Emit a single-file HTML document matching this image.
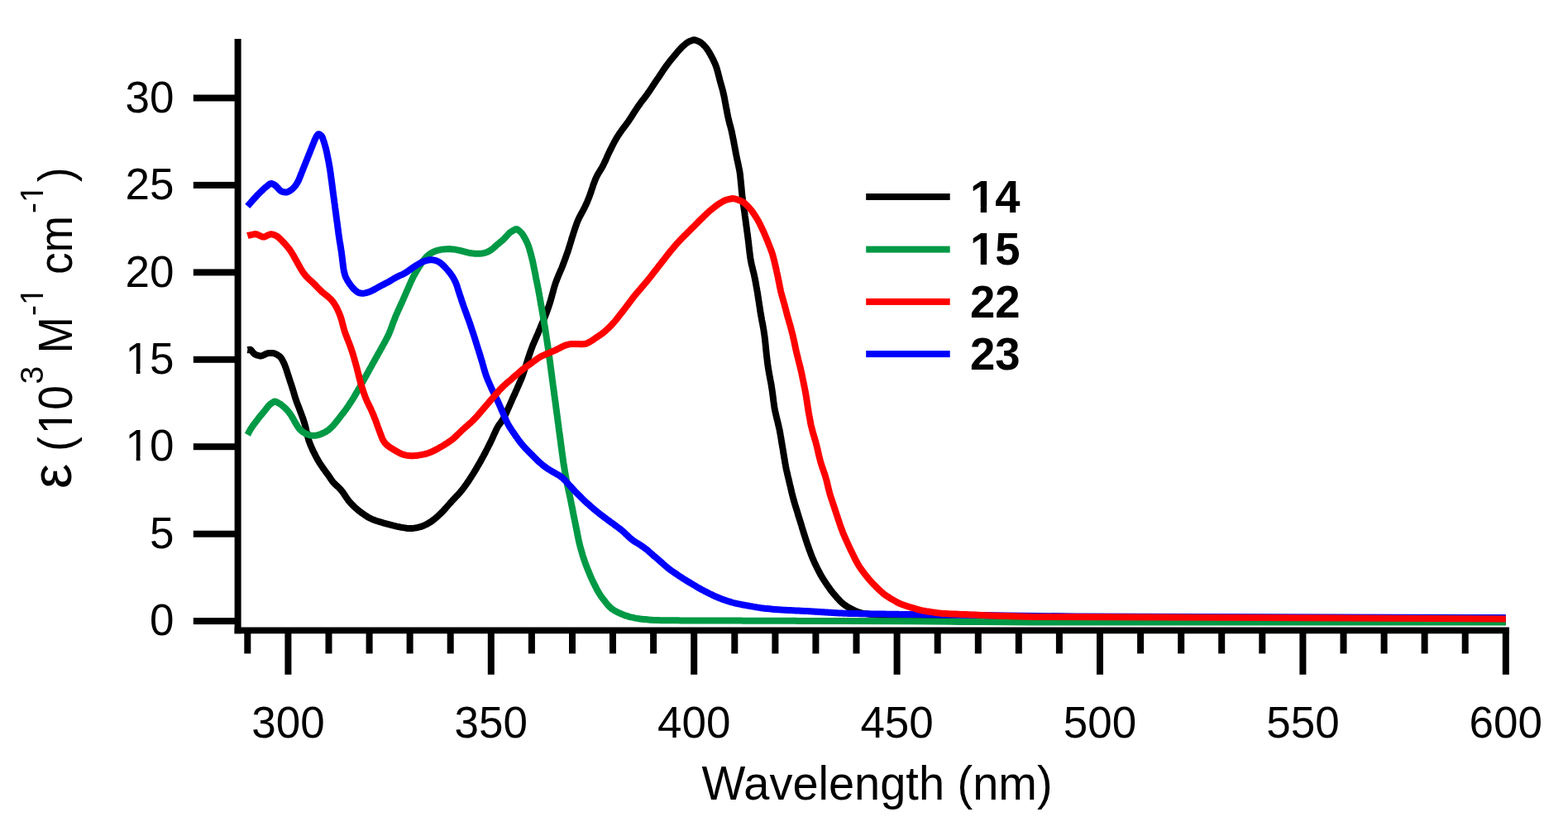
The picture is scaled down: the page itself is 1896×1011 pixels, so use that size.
<!DOCTYPE html>
<html><head><meta charset="utf-8"><style>
html,body{margin:0;padding:0;background:#fff;}
svg{display:block;}
.t{font-family:"Liberation Sans",sans-serif;font-size:53px;fill:#000;}
.b{font-weight:bold;}
.sup{font-size:39px;}
</style></head><body>
<svg width="1896" height="1011" viewBox="0 0 1896 1011">
<rect width="1896" height="1011" fill="#fff"/>
<rect x="283.6" y="47.0" width="8" height="719.2" fill="#000"/>
<rect x="283.6" y="758.5" width="1541.3" height="7.8" fill="#000"/>
<rect x="233.8" y="747.1" width="50.8" height="8" fill="#000"/>
<text transform="translate(210.5,768.3) scale(1,1.025)" text-anchor="end" class="t">0</text>
<rect x="233.8" y="641.7" width="50.8" height="8" fill="#000"/>
<text transform="translate(210.5,662.9) scale(1,1.025)" text-anchor="end" class="t">5</text>
<rect x="233.8" y="536.2" width="50.8" height="8" fill="#000"/>
<text transform="translate(210.5,557.4) scale(1,1.025)" text-anchor="end" class="t">10</text>
<rect x="233.8" y="430.8" width="50.8" height="8" fill="#000"/>
<text transform="translate(210.5,452.0) scale(1,1.025)" text-anchor="end" class="t">15</text>
<rect x="233.8" y="325.4" width="50.8" height="8" fill="#000"/>
<text transform="translate(210.5,346.6) scale(1,1.025)" text-anchor="end" class="t">20</text>
<rect x="233.8" y="219.9" width="50.8" height="8" fill="#000"/>
<text transform="translate(210.5,241.1) scale(1,1.025)" text-anchor="end" class="t">25</text>
<rect x="233.8" y="114.5" width="50.8" height="8" fill="#000"/>
<text transform="translate(210.5,135.7) scale(1,1.025)" text-anchor="end" class="t">30</text>
<rect x="295.3" y="762.4" width="8" height="28.0" fill="#000"/>
<rect x="344.4" y="762.4" width="8" height="53.4" fill="#000"/>
<text transform="translate(348.4,892) scale(1,1.025)" text-anchor="middle" class="t">300</text>
<rect x="393.5" y="762.4" width="8" height="28.0" fill="#000"/>
<rect x="442.6" y="762.4" width="8" height="28.0" fill="#000"/>
<rect x="491.6" y="762.4" width="8" height="28.0" fill="#000"/>
<rect x="540.7" y="762.4" width="8" height="28.0" fill="#000"/>
<rect x="589.8" y="762.4" width="8" height="53.4" fill="#000"/>
<text transform="translate(593.8,892) scale(1,1.025)" text-anchor="middle" class="t">350</text>
<rect x="638.9" y="762.4" width="8" height="28.0" fill="#000"/>
<rect x="688.0" y="762.4" width="8" height="28.0" fill="#000"/>
<rect x="737.0" y="762.4" width="8" height="28.0" fill="#000"/>
<rect x="786.1" y="762.4" width="8" height="28.0" fill="#000"/>
<rect x="835.2" y="762.4" width="8" height="53.4" fill="#000"/>
<text transform="translate(839.2,892) scale(1,1.025)" text-anchor="middle" class="t">400</text>
<rect x="884.3" y="762.4" width="8" height="28.0" fill="#000"/>
<rect x="933.4" y="762.4" width="8" height="28.0" fill="#000"/>
<rect x="982.4" y="762.4" width="8" height="28.0" fill="#000"/>
<rect x="1031.5" y="762.4" width="8" height="28.0" fill="#000"/>
<rect x="1080.6" y="762.4" width="8" height="53.4" fill="#000"/>
<text transform="translate(1084.6,892) scale(1,1.025)" text-anchor="middle" class="t">450</text>
<rect x="1129.7" y="762.4" width="8" height="28.0" fill="#000"/>
<rect x="1178.8" y="762.4" width="8" height="28.0" fill="#000"/>
<rect x="1227.8" y="762.4" width="8" height="28.0" fill="#000"/>
<rect x="1276.9" y="762.4" width="8" height="28.0" fill="#000"/>
<rect x="1326.0" y="762.4" width="8" height="53.4" fill="#000"/>
<text transform="translate(1330.0,892) scale(1,1.025)" text-anchor="middle" class="t">500</text>
<rect x="1375.1" y="762.4" width="8" height="28.0" fill="#000"/>
<rect x="1424.2" y="762.4" width="8" height="28.0" fill="#000"/>
<rect x="1473.2" y="762.4" width="8" height="28.0" fill="#000"/>
<rect x="1522.3" y="762.4" width="8" height="28.0" fill="#000"/>
<rect x="1571.4" y="762.4" width="8" height="53.4" fill="#000"/>
<text transform="translate(1575.4,892) scale(1,1.025)" text-anchor="middle" class="t">550</text>
<rect x="1620.5" y="762.4" width="8" height="28.0" fill="#000"/>
<rect x="1669.6" y="762.4" width="8" height="28.0" fill="#000"/>
<rect x="1718.6" y="762.4" width="8" height="28.0" fill="#000"/>
<rect x="1767.7" y="762.4" width="8" height="28.0" fill="#000"/>
<rect x="1816.8" y="762.4" width="8" height="53.4" fill="#000"/>
<text transform="translate(1820.8,892) scale(1,1.025)" text-anchor="middle" class="t">600</text>
<text transform="translate(848.5,966.6) scale(1,1.035)" class="t" style="font-size:56px">Wavelength (nm)</text>
<g transform="translate(87.2,589.2) rotate(-90)" class="t"><text x="-1.9" y="-0.8" style="font-size:68px">&#949;</text><text transform="scale(1,1.065)" x="43.4" y="0">(</text><text transform="scale(1,1.065)" x="64.1" y="0">10</text><text x="124.7" y="-35" class="sup">3</text><text transform="scale(1,1.065)" x="161.9" y="0">M</text><text x="207.3" y="-35" class="sup">-1</text><text transform="scale(1,1.065)" x="257.5" y="0">cm</text><text x="331.3" y="-35" class="sup">-1</text><text transform="scale(1,1.065)" x="369.3" y="0">)</text><rect x="67.1" y="-5.4" width="10.2" height="6.7" fill="#fff"/><rect x="82.1" y="-5.4" width="10.3" height="6.7" fill="#fff"/><rect x="222.5" y="-38.7" width="7.5" height="4.6" fill="#fff"/><rect x="233.4" y="-38.7" width="7.8" height="4.6" fill="#fff"/><rect x="346.5" y="-38.7" width="7.5" height="4.6" fill="#fff"/><rect x="357.4" y="-38.7" width="7.8" height="4.6" fill="#fff"/></g>
<path d="M299.3,423.1 L299.9,423.2 L301.2,422.7 L302.8,422.8 L304.1,423.9 L305.3,425.4 L306.5,426.9 L307.9,428.2 L309.5,429.1 L311.4,429.7 L313.3,430.2 L315.2,430.5 L317.1,430.1 L318.9,429.3 L320.7,428.4 L322.5,427.6 L324.3,427.1 L326.3,426.9 L328.3,427.0 L330.3,427.1 L332.2,427.5 L333.9,428.3 L335.7,429.3 L337.3,430.3 L338.7,431.5 L339.9,433.0 L341.0,434.6 L341.9,436.3 L342.8,438.1 L343.7,439.9 L344.4,441.7 L345.1,443.6 L345.8,445.4 L346.4,447.3 L347.0,449.2 L347.6,451.1 L348.2,453.0 L348.8,454.9 L349.5,456.9 L350.1,458.8 L350.7,460.7 L351.3,462.6 L352.0,464.5 L352.6,466.4 L353.2,468.3 L353.8,470.2 L354.4,472.1 L355.0,474.0 L355.5,475.9 L356.1,477.8 L356.6,479.7 L357.2,481.6 L357.9,483.5 L358.5,485.4 L359.2,487.3 L359.9,489.1 L360.7,491.0 L361.4,492.9 L362.1,494.7 L362.8,496.6 L363.5,498.5 L364.2,500.4 L364.9,502.2 L365.6,504.1 L366.3,506.0 L366.9,507.9 L367.5,509.8 L368.1,511.7 L368.7,513.6 L369.2,515.5 L369.7,517.5 L370.1,519.4 L370.5,521.4 L371.0,523.3 L371.4,525.3 L371.9,527.2 L372.4,529.1 L372.9,531.1 L373.5,533.0 L374.2,534.9 L374.9,536.7 L375.6,538.6 L376.4,540.4 L377.2,542.2 L378.0,544.1 L378.9,545.9 L379.8,547.6 L380.7,549.4 L381.6,551.2 L382.5,553.0 L383.5,554.7 L384.5,556.5 L385.5,558.2 L386.5,559.9 L387.6,561.6 L388.7,563.2 L389.8,564.9 L391.0,566.5 L392.1,568.1 L393.3,569.8 L394.5,571.4 L395.7,573.0 L396.9,574.6 L398.0,576.2 L399.1,577.8 L400.2,579.5 L401.3,581.1 L402.4,582.6 L403.7,584.0 L405.0,585.3 L406.3,586.6 L407.6,587.8 L409.0,589.1 L410.4,590.4 L411.8,591.9 L413.3,593.7 L414.7,595.5 L416.0,597.4 L417.2,599.2 L418.3,600.9 L419.4,602.5 L420.5,604.1 L421.6,605.6 L422.8,607.0 L424.0,608.4 L425.4,609.8 L426.7,611.2 L428.1,612.6 L429.6,613.9 L431.1,615.3 L432.6,616.6 L434.1,617.8 L435.7,619.0 L437.3,620.2 L438.9,621.4 L440.6,622.5 L442.2,623.6 L443.9,624.7 L445.6,625.7 L447.4,626.7 L449.1,627.5 L450.9,628.3 L452.8,629.0 L454.7,629.7 L456.6,630.3 L458.5,630.9 L460.4,631.4 L462.3,632.0 L464.2,632.6 L466.2,633.1 L468.1,633.7 L470.0,634.2 L471.9,634.7 L473.9,635.2 L475.8,635.7 L477.8,636.1 L479.7,636.6 L481.7,637.0 L483.6,637.4 L485.6,637.8 L487.6,638.1 L489.5,638.4 L491.5,638.7 L493.5,638.9 L495.4,639.0 L497.4,639.0 L499.4,638.9 L501.3,638.6 L503.3,638.3 L505.2,637.9 L507.2,637.4 L509.1,636.9 L510.9,636.2 L512.8,635.5 L514.5,634.7 L516.3,633.8 L518.0,632.8 L519.7,631.7 L521.4,630.7 L523.0,629.5 L524.6,628.3 L526.2,627.1 L527.7,625.8 L529.2,624.4 L530.6,623.1 L532.1,621.7 L533.5,620.3 L534.9,618.9 L536.3,617.4 L537.6,616.0 L539.0,614.5 L540.3,613.0 L541.6,611.5 L542.9,610.0 L544.2,608.5 L545.6,607.0 L546.9,605.5 L548.3,604.0 L549.7,602.6 L551.0,601.1 L552.4,599.7 L553.8,598.3 L555.1,596.8 L556.5,595.3 L557.7,593.8 L559.0,592.2 L560.2,590.6 L561.4,589.0 L562.5,587.4 L563.7,585.8 L564.8,584.1 L566.0,582.5 L567.1,580.8 L568.2,579.1 L569.3,577.5 L570.3,575.8 L571.4,574.1 L572.5,572.4 L573.5,570.7 L574.6,569.0 L575.6,567.3 L576.6,565.5 L577.6,563.8 L578.6,562.1 L579.6,560.4 L580.6,558.6 L581.6,556.9 L582.5,555.1 L583.5,553.4 L584.5,551.6 L585.4,549.8 L586.4,548.1 L587.3,546.3 L588.2,544.5 L589.1,542.8 L590.0,541.0 L590.9,539.2 L591.8,537.4 L592.7,535.6 L593.6,533.8 L594.4,532.0 L595.3,530.2 L596.1,528.4 L596.9,526.5 L597.7,524.7 L598.6,522.9 L599.4,521.1 L600.2,519.4 L601.1,517.7 L602.0,516.0 L603.0,514.4 L604.1,512.9 L605.3,511.3 L606.5,509.6 L607.7,507.9 L608.8,506.1 L609.8,504.3 L610.7,502.4 L611.6,500.6 L612.4,498.8 L613.2,496.9 L614.0,495.1 L614.8,493.3 L615.6,491.6 L616.4,489.8 L617.2,488.0 L618.0,486.2 L618.8,484.4 L619.6,482.5 L620.4,480.7 L621.2,478.9 L622.1,477.1 L622.9,475.2 L623.7,473.4 L624.5,471.6 L625.3,469.8 L626.1,467.9 L626.9,466.1 L627.7,464.3 L628.5,462.4 L629.3,460.6 L630.1,458.8 L630.9,456.9 L631.6,455.1 L632.2,453.2 L632.9,451.3 L633.5,449.4 L634.1,447.5 L634.7,445.6 L635.3,443.7 L636.0,441.8 L636.6,439.9 L637.2,438.0 L637.8,436.1 L638.4,434.2 L639.0,432.3 L639.7,430.4 L640.3,428.5 L641.0,426.6 L641.6,424.7 L642.3,422.8 L643.0,420.9 L643.7,419.1 L644.4,417.2 L645.2,415.4 L646.0,413.5 L646.8,411.7 L647.6,409.9 L648.4,408.0 L649.2,406.2 L650.0,404.4 L650.8,402.5 L651.5,400.7 L652.3,398.8 L653.1,397.0 L653.8,395.1 L654.6,393.3 L655.4,391.4 L656.2,389.6 L657.0,387.8 L657.7,385.9 L658.5,384.1 L659.3,382.2 L660.0,380.4 L660.7,378.5 L661.4,376.6 L662.1,374.7 L662.7,372.9 L663.4,371.0 L664.0,369.1 L664.6,367.2 L665.2,365.3 L665.8,363.3 L666.3,361.4 L666.9,359.5 L667.4,357.6 L667.9,355.6 L668.5,353.7 L669.0,351.8 L669.5,349.8 L670.0,347.9 L670.6,346.0 L671.2,344.1 L671.8,342.2 L672.5,340.3 L673.2,338.5 L673.9,336.6 L674.7,334.7 L675.4,332.9 L676.2,331.1 L677.0,329.2 L677.8,327.4 L678.6,325.6 L679.4,323.7 L680.1,321.9 L680.8,320.0 L681.5,318.1 L682.2,316.3 L682.9,314.4 L683.6,312.5 L684.3,310.6 L684.9,308.7 L685.6,306.8 L686.3,305.0 L686.9,303.1 L687.5,301.2 L688.1,299.3 L688.7,297.3 L689.3,295.4 L689.9,293.5 L690.5,291.6 L691.0,289.7 L691.6,287.8 L692.2,285.9 L692.8,284.0 L693.4,282.1 L694.0,280.1 L694.7,278.2 L695.3,276.3 L695.9,274.5 L696.6,272.6 L697.2,270.7 L697.9,268.8 L698.7,267.0 L699.5,265.1 L700.3,263.3 L701.2,261.6 L702.2,259.8 L703.1,258.1 L704.1,256.3 L705.0,254.6 L706.0,252.8 L706.9,251.0 L707.7,249.2 L708.6,247.4 L709.4,245.6 L710.2,243.7 L710.9,241.9 L711.7,240.0 L712.4,238.2 L713.1,236.3 L713.8,234.4 L714.5,232.5 L715.1,230.6 L715.7,228.7 L716.4,226.8 L717.0,224.9 L717.6,223.0 L718.3,221.2 L719.0,219.3 L719.7,217.4 L720.5,215.6 L721.3,213.8 L722.2,212.1 L723.2,210.3 L724.2,208.6 L725.3,206.9 L726.3,205.2 L727.4,203.5 L728.3,201.8 L729.3,200.0 L730.2,198.2 L731.0,196.4 L731.9,194.6 L732.7,192.8 L733.5,191.0 L734.3,189.2 L735.1,187.3 L736.0,185.5 L736.8,183.7 L737.7,181.9 L738.6,180.1 L739.5,178.3 L740.4,176.5 L741.3,174.7 L742.2,173.0 L743.1,171.2 L744.1,169.5 L745.1,167.7 L746.1,166.0 L747.2,164.3 L748.3,162.7 L749.4,161.0 L750.5,159.4 L751.7,157.7 L752.9,156.1 L754.1,154.5 L755.3,152.9 L756.5,151.3 L757.7,149.7 L758.9,148.1 L760.0,146.5 L761.1,144.8 L762.2,143.2 L763.3,141.5 L764.4,139.8 L765.4,138.1 L766.5,136.4 L767.6,134.7 L768.7,133.1 L769.8,131.4 L770.9,129.7 L772.0,128.1 L773.2,126.5 L774.3,124.8 L775.5,123.2 L776.7,121.6 L778.0,120.1 L779.2,118.5 L780.4,116.9 L781.6,115.3 L782.8,113.7 L783.9,112.0 L785.0,110.4 L786.2,108.7 L787.3,107.1 L788.4,105.4 L789.5,103.7 L790.6,102.1 L791.7,100.4 L792.8,98.7 L793.9,97.1 L795.0,95.4 L796.2,93.8 L797.3,92.1 L798.4,90.4 L799.5,88.8 L800.6,87.1 L801.7,85.4 L802.8,83.8 L804.0,82.1 L805.1,80.5 L806.3,78.9 L807.5,77.3 L808.7,75.7 L810.0,74.1 L811.2,72.6 L812.5,71.0 L813.7,69.5 L815.0,67.9 L816.3,66.4 L817.5,64.9 L818.8,63.3 L820.1,61.8 L821.5,60.3 L822.8,58.8 L824.2,57.4 L825.6,56.0 L827.1,54.7 L828.6,53.4 L830.1,52.2 L831.8,51.0 L833.5,50.1 L835.3,49.4 L837.2,48.7 L839.1,48.2 L840.9,48.5 L842.8,49.2 L844.6,49.9 L846.4,50.8 L848.0,51.9 L849.5,53.2 L850.9,54.6 L852.3,56.0 L853.6,57.5 L854.8,59.1 L855.9,60.7 L857.0,62.4 L858.0,64.1 L859.0,65.8 L859.9,67.6 L860.9,69.3 L861.8,71.1 L862.7,72.9 L863.5,74.7 L864.4,76.5 L865.1,78.3 L865.8,80.2 L866.5,82.1 L867.0,84.0 L867.6,85.9 L868.1,87.8 L868.6,89.8 L869.1,91.7 L869.6,93.6 L870.1,95.6 L870.6,97.5 L871.1,99.4 L871.7,101.4 L872.2,103.3 L872.7,105.2 L873.3,107.2 L873.8,109.1 L874.3,111.0 L874.7,113.0 L875.2,114.9 L875.6,116.9 L876.0,118.8 L876.4,120.8 L876.7,122.8 L877.1,124.7 L877.5,126.7 L877.8,128.7 L878.2,130.6 L878.6,132.6 L879.0,134.6 L879.3,136.5 L879.7,138.5 L880.1,140.4 L880.5,142.4 L881.0,144.3 L881.4,146.3 L881.9,148.2 L882.4,150.2 L883.0,152.1 L883.5,154.0 L884.0,155.9 L884.5,157.9 L884.9,159.8 L885.3,161.8 L885.7,163.7 L886.1,165.7 L886.5,167.7 L886.9,169.6 L887.3,171.6 L887.6,173.6 L888.0,175.5 L888.4,177.5 L888.7,179.5 L889.1,181.4 L889.5,183.4 L889.8,185.4 L890.2,187.3 L890.6,189.3 L891.0,191.2 L891.4,193.2 L891.9,195.2 L892.3,197.1 L892.7,199.1 L893.1,201.0 L893.5,203.0 L893.9,204.9 L894.3,206.9 L894.6,208.9 L894.9,210.8 L895.1,212.8 L895.3,214.8 L895.5,216.8 L895.7,218.8 L895.9,220.8 L896.1,222.8 L896.3,224.8 L896.5,226.8 L896.6,228.7 L896.8,230.7 L897.0,232.7 L897.2,234.7 L897.4,236.7 L897.6,238.7 L897.9,240.7 L898.1,242.7 L898.4,244.6 L898.7,246.6 L899.0,248.6 L899.3,250.6 L899.6,252.6 L899.9,254.5 L900.2,256.5 L900.5,258.5 L900.7,260.5 L901.0,262.5 L901.3,264.4 L901.5,266.4 L901.8,268.4 L902.1,270.4 L902.3,272.4 L902.6,274.3 L902.9,276.3 L903.1,278.3 L903.4,280.3 L903.7,282.3 L903.9,284.3 L904.2,286.2 L904.4,288.2 L904.7,290.2 L904.9,292.2 L905.2,294.2 L905.4,296.2 L905.6,298.2 L905.8,300.1 L906.1,302.1 L906.3,304.1 L906.5,306.1 L906.8,308.1 L907.1,310.1 L907.3,312.0 L907.7,314.0 L908.0,316.0 L908.4,317.9 L908.8,319.9 L909.3,321.8 L909.8,323.8 L910.2,325.7 L910.7,327.7 L911.2,329.6 L911.7,331.5 L912.1,333.5 L912.5,335.4 L912.9,337.4 L913.3,339.4 L913.7,341.3 L914.0,343.3 L914.4,345.3 L914.7,347.2 L915.1,349.2 L915.4,351.2 L915.8,353.2 L916.1,355.1 L916.4,357.1 L916.7,359.1 L917.0,361.1 L917.3,363.0 L917.6,365.0 L917.9,367.0 L918.2,369.0 L918.5,370.9 L918.8,372.9 L919.1,374.9 L919.4,376.9 L919.7,378.8 L920.1,380.8 L920.4,382.8 L920.8,384.8 L921.1,386.7 L921.5,388.7 L921.9,390.6 L922.3,392.6 L922.6,394.6 L923.0,396.5 L923.3,398.5 L923.6,400.5 L923.9,402.5 L924.2,404.5 L924.5,406.4 L924.7,408.4 L925.0,410.4 L925.2,412.4 L925.4,414.4 L925.6,416.4 L925.8,418.3 L926.0,420.3 L926.2,422.3 L926.4,424.3 L926.6,426.3 L926.8,428.3 L927.0,430.3 L927.3,432.3 L927.5,434.3 L927.7,436.2 L928.0,438.2 L928.2,440.2 L928.5,442.2 L928.8,444.2 L929.1,446.1 L929.4,448.1 L929.8,450.1 L930.1,452.1 L930.5,454.0 L930.8,455.9 L931.2,457.8 L931.5,459.7 L931.9,461.4 L932.2,463.1 L932.5,464.8 L932.8,466.4 L933.0,468.0 L933.3,469.8 L933.6,471.7 L933.9,474.1 L934.3,476.9 L934.7,480.0 L935.1,483.0 L935.4,485.5 L935.7,487.5 L935.9,489.4 L936.2,491.1 L936.4,492.8 L936.7,494.4 L937.0,496.1 L937.4,497.9 L937.8,499.7 L938.2,501.5 L938.7,503.4 L939.1,505.3 L939.6,507.2 L940.1,509.1 L940.6,511.1 L941.0,513.0 L941.5,515.0 L941.9,516.9 L942.4,518.9 L942.8,520.8 L943.1,522.8 L943.5,524.7 L943.8,526.7 L944.2,528.7 L944.5,530.7 L944.8,532.6 L945.1,534.6 L945.5,536.6 L945.8,538.6 L946.1,540.5 L946.5,542.5 L946.8,544.5 L947.1,546.4 L947.4,548.4 L947.8,550.4 L948.1,552.4 L948.4,554.3 L948.8,556.3 L949.1,558.3 L949.4,560.3 L949.8,562.2 L950.1,564.2 L950.5,566.1 L950.9,568.1 L951.4,570.1 L951.8,572.0 L952.3,574.0 L952.7,575.9 L953.2,577.8 L953.6,579.8 L954.1,581.7 L954.6,583.7 L955.0,585.6 L955.5,587.6 L956.0,589.5 L956.4,591.5 L956.9,593.4 L957.3,595.4 L957.8,597.3 L958.3,599.2 L958.8,601.2 L959.3,603.1 L959.8,605.0 L960.4,607.0 L960.9,608.9 L961.5,610.8 L962.1,612.7 L962.7,614.6 L963.3,616.5 L963.9,618.4 L964.5,620.4 L965.0,622.3 L965.6,624.2 L966.2,626.1 L966.8,628.0 L967.4,629.9 L968.0,631.8 L968.6,633.7 L969.2,635.6 L969.7,637.6 L970.3,639.5 L970.9,641.4 L971.5,643.3 L972.1,645.2 L972.7,647.1 L973.3,649.0 L973.9,650.9 L974.5,652.8 L975.1,654.7 L975.8,656.6 L976.4,658.5 L977.1,660.4 L977.8,662.3 L978.4,664.2 L979.1,666.0 L979.8,667.9 L980.5,669.8 L981.2,671.7 L981.9,673.5 L982.7,675.4 L983.5,677.2 L984.3,679.0 L985.1,680.9 L986.0,682.7 L986.9,684.5 L987.7,686.2 L988.6,688.0 L989.5,689.8 L990.5,691.6 L991.4,693.4 L992.3,695.1 L993.3,696.8 L994.4,698.6 L995.4,700.3 L996.5,701.9 L997.6,703.6 L998.7,705.3 L999.8,706.9 L1000.9,708.6 L1002.1,710.2 L1003.2,711.9 L1004.4,713.5 L1005.6,715.1 L1006.8,716.6 L1008.1,718.2 L1009.4,719.7 L1010.7,721.2 L1012.0,722.7 L1013.4,724.2 L1014.7,725.7 L1016.1,727.1 L1017.5,728.5 L1019.0,729.8 L1020.6,731.0 L1022.2,732.1 L1023.8,733.2 L1025.5,734.2 L1027.3,735.2 L1029.0,736.2 L1030.8,737.1 L1032.6,738.0 L1034.4,738.8 L1036.2,739.6 L1038.1,740.2 L1040.0,740.8 L1041.9,741.3 L1043.8,741.7 L1045.8,742.0 L1047.8,742.2 L1049.7,742.5 L1051.7,742.7 L1053.7,742.9 L1055.7,743.1 L1057.7,743.3 L1059.7,743.5 L1061.7,743.7 L1063.7,744.0 L1065.6,744.2 L1067.6,744.5 L1069.6,744.7 L1071.6,745.0 L1073.6,745.2 L1075.6,745.4 L1077.6,745.7 L1079.5,745.9 L1081.5,746.2 L1083.5,746.4 L1085.5,746.7 L1087.5,746.9 L1089.5,747.2 L1091.4,747.4 L1093.4,747.7 L1095.4,747.9 L1097.4,748.1 L1099.4,748.3 L1101.4,748.5 L1103.4,748.7 L1105.4,748.8 L1107.4,749.0 L1109.4,749.1 L1111.4,749.3 L1113.3,749.4 L1115.3,749.5 L1117.3,749.7 L1119.3,749.8 L1121.2,749.9 L1123.1,750.0 L1124.7,750.1 L1126.2,750.2 L1127.3,750.3 L1127.3,750.3 L1160.0,751.5 L1820.8,752.0" fill="none" stroke="#000000" stroke-width="8" stroke-linejoin="round" stroke-linecap="butt"/>
<path d="M299.3,525.8 L300.2,524.2 L300.7,523.1 L301.4,521.8 L302.2,520.4 L303.1,518.8 L304.2,517.2 L305.3,515.6 L306.4,514.0 L307.6,512.4 L308.8,510.8 L310.0,509.2 L311.2,507.7 L312.4,506.1 L313.6,504.5 L314.9,502.9 L316.2,501.4 L317.4,499.9 L318.7,498.3 L320.0,496.8 L321.2,495.2 L322.4,493.7 L323.7,492.1 L324.9,490.6 L326.3,489.2 L327.9,488.0 L329.5,486.9 L331.2,485.8 L332.8,485.5 L334.6,486.2 L336.3,487.1 L338.0,488.1 L339.7,489.2 L341.3,490.4 L342.8,491.7 L344.3,493.0 L345.7,494.4 L347.1,495.8 L348.4,497.3 L349.6,498.9 L350.8,500.5 L351.9,502.1 L353.0,503.8 L354.0,505.6 L355.0,507.3 L355.9,509.0 L356.9,510.8 L357.9,512.5 L358.9,514.2 L360.0,515.9 L361.1,517.5 L362.3,519.0 L363.7,520.3 L365.1,521.6 L366.6,522.7 L368.2,523.7 L369.8,524.6 L371.6,525.3 L373.4,525.9 L375.3,526.4 L377.2,526.7 L379.2,526.8 L381.2,526.7 L383.1,526.4 L385.2,525.9 L387.3,525.2 L389.4,524.3 L391.5,523.4 L393.3,522.5 L394.9,521.5 L396.4,520.5 L397.9,519.4 L399.2,518.2 L400.6,516.9 L402.0,515.6 L403.3,514.2 L404.6,512.7 L405.9,511.1 L407.1,509.6 L408.3,508.0 L409.6,506.4 L410.8,504.8 L412.0,503.2 L413.3,501.6 L414.5,500.1 L415.7,498.5 L416.9,496.9 L418.1,495.3 L419.3,493.7 L420.4,492.0 L421.5,490.4 L422.6,488.7 L423.7,487.0 L424.8,485.4 L425.9,483.7 L426.9,482.0 L428.0,480.3 L429.0,478.6 L430.0,476.8 L431.0,475.1 L432.0,473.4 L433.0,471.6 L434.0,469.9 L435.0,468.2 L436.0,466.4 L436.9,464.7 L437.9,462.9 L438.9,461.2 L439.8,459.4 L440.8,457.7 L441.8,455.9 L442.8,454.2 L443.7,452.4 L444.7,450.7 L445.7,448.9 L446.6,447.2 L447.6,445.4 L448.6,443.7 L449.6,441.9 L450.5,440.2 L451.5,438.4 L452.5,436.7 L453.4,434.9 L454.4,433.2 L455.4,431.4 L456.4,429.7 L457.3,427.9 L458.3,426.2 L459.3,424.5 L460.2,422.7 L461.2,421.0 L462.2,419.2 L463.1,417.5 L464.1,415.7 L465.1,414.0 L466.0,412.2 L467.0,410.4 L467.9,408.7 L468.8,406.9 L469.7,405.1 L470.5,403.3 L471.2,401.4 L472.0,399.6 L472.7,397.7 L473.4,395.8 L474.1,393.9 L474.7,392.1 L475.4,390.2 L476.1,388.3 L476.9,386.5 L477.6,384.6 L478.3,382.7 L479.1,380.9 L479.9,379.1 L480.7,377.2 L481.5,375.4 L482.4,373.6 L483.2,371.8 L484.0,369.9 L484.8,368.1 L485.7,366.3 L486.5,364.5 L487.3,362.7 L488.1,360.8 L488.9,359.0 L489.7,357.2 L490.5,355.3 L491.3,353.5 L492.1,351.7 L492.9,349.8 L493.7,348.0 L494.5,346.2 L495.3,344.3 L496.1,342.5 L496.9,340.7 L497.8,338.9 L498.6,337.1 L499.5,335.3 L500.4,333.5 L501.4,331.7 L502.4,330.0 L503.4,328.3 L504.4,326.6 L505.4,324.9 L506.5,323.2 L507.6,321.5 L508.7,319.8 L509.8,318.2 L510.9,316.5 L512.1,314.9 L513.3,313.3 L514.6,311.8 L515.9,310.4 L517.3,309.0 L518.8,307.8 L520.5,306.7 L522.1,305.7 L523.9,304.7 L525.7,304.0 L527.5,303.3 L529.4,302.7 L531.3,302.3 L533.3,301.9 L535.2,301.6 L537.2,301.4 L539.2,301.3 L541.2,301.2 L543.2,301.1 L545.2,301.2 L547.1,301.4 L549.1,301.6 L551.1,301.9 L553.0,302.3 L555.0,302.7 L556.9,303.2 L558.8,303.7 L560.8,304.2 L562.7,304.7 L564.6,305.2 L566.6,305.6 L568.5,306.0 L570.5,306.3 L572.5,306.5 L574.4,306.7 L576.4,306.8 L578.4,306.8 L580.4,306.7 L582.3,306.5 L584.3,306.2 L586.2,305.8 L588.0,305.2 L589.8,304.5 L591.6,303.6 L593.2,302.6 L594.8,301.5 L596.3,300.3 L597.8,299.0 L599.2,297.7 L600.6,296.4 L602.1,295.2 L603.6,293.9 L605.1,292.7 L606.7,291.4 L608.3,290.0 L609.8,288.5 L611.2,287.0 L612.6,285.5 L613.9,284.0 L615.1,282.6 L616.5,281.3 L618.1,280.2 L619.8,279.2 L621.5,278.2 L623.2,277.3 L624.9,277.1 L626.5,278.0 L628.0,279.3 L629.5,280.6 L630.8,282.0 L632.0,283.5 L633.0,285.2 L634.0,286.9 L635.0,288.7 L635.9,290.4 L636.8,292.2 L637.6,294.0 L638.4,295.9 L639.1,297.7 L639.7,299.6 L640.3,301.5 L640.8,303.5 L641.4,305.4 L641.9,307.3 L642.4,309.2 L642.9,311.2 L643.4,313.1 L643.8,315.1 L644.3,317.0 L644.7,319.0 L645.1,320.9 L645.5,322.9 L645.9,324.8 L646.3,326.8 L646.7,328.8 L647.1,330.7 L647.5,332.7 L647.8,334.7 L648.2,336.6 L648.6,338.6 L649.0,340.5 L649.4,342.5 L649.8,344.5 L650.2,346.4 L650.6,348.4 L651.0,350.3 L651.3,352.3 L651.7,354.3 L652.1,356.2 L652.4,358.2 L652.8,360.2 L653.1,362.2 L653.5,364.1 L653.8,366.1 L654.1,368.1 L654.5,370.0 L654.8,372.0 L655.2,374.0 L655.5,375.9 L655.9,377.9 L656.2,379.9 L656.6,381.9 L656.9,383.8 L657.2,385.8 L657.6,387.8 L657.9,389.7 L658.2,391.7 L658.6,393.7 L658.9,395.7 L659.2,397.6 L659.5,399.6 L659.8,401.6 L660.1,403.6 L660.4,405.5 L660.7,407.5 L661.0,409.5 L661.3,411.5 L661.6,413.4 L661.9,415.4 L662.2,417.4 L662.5,419.4 L662.8,421.4 L663.1,423.3 L663.4,425.3 L663.7,427.3 L663.9,429.3 L664.2,431.3 L664.4,433.2 L664.7,435.2 L665.0,437.2 L665.2,439.2 L665.5,441.2 L665.7,443.2 L666.0,445.1 L666.3,447.1 L666.5,449.1 L666.8,451.1 L667.1,453.1 L667.3,455.1 L667.6,457.0 L667.8,459.0 L668.1,461.0 L668.4,463.0 L668.6,465.0 L668.9,467.0 L669.2,468.9 L669.4,470.9 L669.7,472.9 L670.0,474.9 L670.2,476.9 L670.5,478.8 L670.8,480.8 L671.0,482.8 L671.3,484.8 L671.6,486.8 L671.8,488.8 L672.1,490.7 L672.3,492.7 L672.6,494.7 L672.9,496.7 L673.1,498.7 L673.4,500.7 L673.7,502.6 L673.9,504.6 L674.2,506.6 L674.5,508.6 L674.7,510.6 L675.0,512.5 L675.3,514.5 L675.5,516.5 L675.8,518.5 L676.0,520.5 L676.3,522.5 L676.6,524.4 L676.8,526.4 L677.1,528.4 L677.4,530.4 L677.6,532.4 L677.9,534.4 L678.2,536.3 L678.4,538.3 L678.7,540.3 L679.0,542.3 L679.2,544.3 L679.5,546.3 L679.7,548.2 L680.0,550.2 L680.3,552.2 L680.6,554.2 L680.8,556.2 L681.1,558.1 L681.4,560.1 L681.7,562.1 L682.1,564.1 L682.4,566.0 L682.7,568.0 L683.0,570.0 L683.4,572.0 L683.7,573.9 L684.0,575.9 L684.4,577.9 L684.7,579.8 L685.1,581.8 L685.5,583.8 L685.9,585.7 L686.3,587.7 L686.7,589.6 L687.2,591.6 L687.6,593.5 L688.0,595.5 L688.5,597.4 L688.9,599.4 L689.3,601.4 L689.7,603.3 L690.1,605.3 L690.5,607.2 L690.9,609.2 L691.3,611.2 L691.7,613.1 L692.1,615.1 L692.5,617.0 L692.8,619.0 L693.2,621.0 L693.6,622.9 L694.0,624.9 L694.4,626.8 L694.8,628.8 L695.2,630.8 L695.6,632.7 L696.0,634.7 L696.4,636.6 L696.8,638.6 L697.2,640.6 L697.6,642.5 L697.9,644.5 L698.3,646.5 L698.7,648.4 L699.1,650.4 L699.5,652.3 L699.9,654.3 L700.4,656.2 L700.8,658.2 L701.3,660.1 L701.8,662.1 L702.4,664.0 L702.9,665.9 L703.5,667.8 L704.1,669.7 L704.6,671.6 L705.2,673.6 L705.8,675.5 L706.5,677.4 L707.1,679.3 L707.8,681.1 L708.5,683.0 L709.2,684.9 L709.9,686.7 L710.7,688.6 L711.4,690.4 L712.2,692.3 L712.9,694.1 L713.7,696.0 L714.5,697.8 L715.3,699.6 L716.2,701.5 L717.0,703.3 L717.9,705.1 L718.8,706.8 L719.7,708.6 L720.6,710.4 L721.5,712.2 L722.4,714.0 L723.4,715.7 L724.4,717.4 L725.5,719.1 L726.6,720.8 L727.8,722.4 L728.9,724.0 L730.2,725.6 L731.4,727.1 L732.6,728.7 L733.9,730.3 L735.2,731.8 L736.5,733.2 L737.9,734.6 L739.4,735.9 L740.9,737.0 L742.6,738.1 L744.3,739.1 L746.1,740.0 L747.8,740.9 L749.6,741.7 L751.5,742.6 L753.3,743.3 L755.2,744.0 L757.0,744.7 L758.9,745.2 L760.9,745.8 L762.8,746.3 L764.7,746.7 L766.7,747.2 L768.6,747.6 L770.6,747.9 L772.6,748.2 L774.6,748.5 L776.5,748.7 L778.5,748.9 L780.5,749.1 L782.5,749.3 L784.5,749.5 L786.5,749.7 L788.5,749.8 L790.5,749.9 L792.5,750.0 L794.5,750.1 L796.5,750.1 L798.5,750.2 L800.5,750.2 L802.5,750.2 L804.5,750.2 L806.5,750.2 L808.5,750.2 L810.5,750.3 L812.5,750.3 L814.5,750.3 L816.5,750.3 L818.5,750.3 L820.5,750.3 L822.5,750.4 L824.5,750.4 L826.5,750.4 L828.5,750.4 L830.5,750.4 L832.5,750.4 L834.5,750.5 L836.5,750.5 L838.5,750.5 L840.5,750.5 L842.5,750.5 L844.5,750.5 L846.5,750.5 L848.5,750.5 L850.5,750.5 L852.5,750.5 L854.5,750.5 L856.5,750.5 L858.5,750.5 L860.5,750.5 L862.5,750.6 L864.5,750.6 L866.5,750.6 L868.5,750.6 L870.5,750.6 L872.5,750.6 L874.5,750.6 L876.5,750.6 L878.5,750.6 L880.5,750.6 L882.5,750.6 L884.5,750.6 L886.5,750.6 L888.5,750.6 L890.5,750.6 L892.5,750.6 L894.5,750.6 L896.5,750.6 L898.5,750.7 L900.5,750.7 L902.5,750.7 L904.5,750.7 L906.5,750.7 L908.5,750.7 L910.5,750.7 L912.5,750.7 L914.5,750.7 L916.5,750.7 L918.5,750.7 L920.5,750.7 L922.5,750.7 L924.5,750.7 L926.5,750.7 L928.5,750.7 L930.5,750.7 L932.5,750.7 L934.5,750.8 L936.5,750.8 L938.5,750.8 L940.5,750.8 L942.5,750.8 L944.5,750.8 L946.5,750.8 L948.5,750.8 L950.5,750.8 L952.5,750.8 L954.5,750.8 L956.5,750.8 L958.5,750.8 L960.5,750.8 L962.5,750.8 L964.5,750.9 L966.5,750.9 L968.5,750.9 L970.5,750.9 L972.5,750.9 L974.5,750.9 L976.5,750.9 L978.5,750.9 L980.5,750.9 L982.5,750.9 L984.5,750.9 L986.5,750.9 L988.4,751.0 L990.4,751.0 L992.3,751.0 L994.1,751.0 L995.6,751.0 L996.9,751.0 L997.5,751.0 L1100.0,751.2 L1250.0,752.5 L1820.8,752.5" fill="none" stroke="#009945" stroke-width="8" stroke-linejoin="round" stroke-linecap="butt"/>
<path d="M299.3,249.3 L300.6,247.8 L301.4,247.0 L302.3,245.9 L303.5,244.6 L304.7,243.2 L305.9,241.8 L307.3,240.3 L308.6,238.8 L310.0,237.4 L311.3,235.9 L312.7,234.5 L314.1,233.1 L315.6,231.7 L317.0,230.3 L318.4,228.9 L319.9,227.6 L321.4,226.3 L323.0,225.0 L324.5,223.7 L326.0,222.5 L327.6,221.9 L329.4,222.2 L331.1,223.1 L332.8,224.2 L334.2,225.5 L335.5,226.9 L336.9,228.3 L338.2,229.8 L339.6,231.0 L341.4,231.8 L343.3,232.3 L345.2,232.6 L347.1,232.5 L348.8,231.7 L350.5,230.7 L352.2,229.6 L353.8,228.4 L355.1,227.0 L356.4,225.5 L357.6,224.0 L358.7,222.3 L359.7,220.7 L360.6,218.9 L361.5,217.1 L362.2,215.3 L363.0,213.4 L363.7,211.5 L364.4,209.7 L365.2,207.8 L365.9,206.0 L366.6,204.1 L367.4,202.2 L368.1,200.4 L368.9,198.5 L369.6,196.7 L370.3,194.8 L371.1,193.0 L371.8,191.1 L372.6,189.2 L373.3,187.4 L374.1,185.5 L374.8,183.7 L375.5,181.8 L376.3,180.0 L377.0,178.1 L377.8,176.2 L378.5,174.4 L379.3,172.5 L380.0,170.7 L380.8,168.9 L381.6,167.1 L382.4,165.3 L383.5,163.6 L384.7,162.3 L386.1,162.2 L387.5,163.2 L388.9,164.5 L389.9,166.2 L390.5,168.0 L391.1,169.8 L391.8,171.7 L392.3,173.6 L392.9,175.5 L393.4,177.5 L394.0,179.4 L394.4,181.3 L394.9,183.3 L395.3,185.2 L395.7,187.2 L396.1,189.2 L396.5,191.1 L396.9,193.1 L397.3,195.0 L397.6,197.0 L398.0,199.0 L398.3,200.9 L398.7,202.9 L399.0,204.9 L399.3,206.9 L399.6,208.8 L399.8,210.8 L400.1,212.8 L400.4,214.8 L400.6,216.8 L400.9,218.8 L401.2,220.7 L401.4,222.7 L401.7,224.7 L401.9,226.7 L402.2,228.7 L402.5,230.6 L402.7,232.6 L403.0,234.6 L403.3,236.6 L403.5,238.6 L403.8,240.6 L404.1,242.5 L404.3,244.5 L404.6,246.5 L404.9,248.5 L405.1,250.5 L405.4,252.5 L405.6,254.4 L405.9,256.4 L406.2,258.4 L406.4,260.4 L406.7,262.4 L407.0,264.3 L407.2,266.3 L407.5,268.3 L407.8,270.2 L408.0,272.2 L408.3,274.2 L408.5,276.1 L408.8,278.1 L409.1,280.1 L409.3,282.1 L409.6,284.1 L409.9,286.1 L410.2,288.1 L410.5,290.2 L410.8,292.2 L411.2,294.2 L411.5,296.2 L411.8,298.1 L412.1,300.1 L412.4,302.0 L412.7,304.0 L413.0,305.9 L413.2,307.9 L413.5,309.9 L413.7,311.9 L414.0,313.8 L414.2,315.8 L414.5,317.8 L414.7,319.8 L415.0,321.8 L415.2,323.8 L415.5,325.7 L415.9,327.7 L416.3,329.6 L416.8,331.5 L417.4,333.4 L418.1,335.2 L419.0,337.0 L419.9,338.7 L420.9,340.4 L422.0,342.1 L423.1,343.7 L424.3,345.3 L425.5,346.9 L426.8,348.4 L428.2,349.8 L429.6,351.1 L431.1,352.3 L432.6,353.3 L434.2,354.1 L435.9,354.5 L437.7,354.7 L439.5,354.7 L441.4,354.4 L443.3,354.0 L445.1,353.4 L447.0,352.7 L448.8,352.0 L450.6,351.1 L452.4,350.2 L454.1,349.2 L455.8,348.3 L457.6,347.3 L459.3,346.4 L461.0,345.4 L462.8,344.5 L464.5,343.6 L466.2,342.7 L467.9,341.9 L469.6,341.0 L471.2,340.1 L472.7,339.1 L474.4,338.1 L476.1,337.0 L478.1,335.9 L480.1,334.8 L482.2,333.8 L484.2,332.9 L486.1,332.1 L487.8,331.3 L489.5,330.4 L491.0,329.5 L492.6,328.4 L494.2,327.3 L495.7,326.2 L497.3,325.0 L498.9,323.9 L500.5,322.8 L502.1,321.7 L503.8,320.6 L505.5,319.6 L507.2,318.6 L508.9,317.7 L510.7,316.8 L512.6,316.1 L514.4,315.4 L516.3,314.9 L518.2,314.5 L520.1,314.3 L522.1,314.3 L524.0,314.4 L525.9,314.8 L527.7,315.4 L529.4,316.1 L531.1,317.0 L532.7,318.1 L534.3,319.4 L535.7,320.7 L537.1,322.1 L538.5,323.5 L539.8,325.0 L541.1,326.5 L542.4,328.1 L543.6,329.6 L544.8,331.1 L546.0,332.7 L547.1,334.3 L548.1,336.0 L549.1,337.7 L550.0,339.6 L550.9,341.4 L551.6,343.3 L552.4,345.2 L553.0,347.2 L553.6,349.1 L554.2,351.0 L554.8,352.9 L555.4,354.7 L556.0,356.6 L556.6,358.5 L557.3,360.4 L557.9,362.3 L558.5,364.2 L559.1,366.0 L559.8,367.9 L560.4,369.8 L561.1,371.7 L561.8,373.6 L562.5,375.5 L563.2,377.4 L563.9,379.2 L564.5,381.1 L565.2,383.0 L565.9,384.9 L566.6,386.7 L567.3,388.6 L567.9,390.5 L568.6,392.4 L569.2,394.3 L569.8,396.2 L570.5,398.1 L571.1,400.0 L571.7,401.9 L572.4,403.8 L573.0,405.7 L573.6,407.6 L574.2,409.5 L574.8,411.4 L575.4,413.3 L576.0,415.2 L576.6,417.1 L577.2,419.1 L577.8,421.0 L578.4,422.9 L579.0,424.8 L579.6,426.7 L580.2,428.6 L580.7,430.5 L581.3,432.4 L581.9,434.3 L582.5,436.2 L583.1,438.2 L583.6,440.1 L584.2,442.0 L584.7,443.9 L585.2,445.9 L585.8,447.8 L586.4,449.7 L587.0,451.6 L587.6,453.5 L588.2,455.4 L589.0,457.2 L589.7,459.1 L590.5,460.9 L591.3,462.8 L592.1,464.6 L592.9,466.4 L593.7,468.3 L594.5,470.1 L595.4,471.9 L596.3,473.7 L597.1,475.5 L598.0,477.3 L598.9,479.0 L599.8,480.8 L600.6,482.6 L601.5,484.3 L602.3,486.1 L603.1,487.9 L603.9,489.6 L604.7,491.5 L605.5,493.3 L606.3,495.2 L607.1,497.1 L608.0,499.1 L608.8,501.1 L609.6,503.0 L610.4,504.9 L611.3,506.7 L612.1,508.5 L612.9,510.3 L613.8,512.0 L614.7,513.7 L615.7,515.4 L616.7,517.1 L617.8,518.7 L618.9,520.4 L620.0,522.0 L621.1,523.7 L622.3,525.3 L623.4,527.0 L624.6,528.6 L625.7,530.2 L626.9,531.9 L628.1,533.5 L629.3,535.1 L630.5,536.6 L631.8,538.2 L633.1,539.7 L634.4,541.2 L635.8,542.6 L637.2,544.0 L638.6,545.5 L640.0,546.9 L641.4,548.3 L642.8,549.7 L644.2,551.1 L645.6,552.5 L647.0,554.0 L648.5,555.4 L649.9,556.8 L651.3,558.2 L652.8,559.5 L654.3,560.8 L655.8,562.1 L657.4,563.4 L659.0,564.5 L660.6,565.7 L662.2,566.8 L663.9,567.9 L665.6,568.9 L667.3,570.0 L669.1,571.0 L670.8,571.9 L672.5,572.9 L674.3,573.9 L676.0,574.9 L677.6,576.0 L679.2,577.2 L680.7,578.4 L682.1,579.8 L683.5,581.2 L684.8,582.7 L686.2,584.2 L687.5,585.7 L688.8,587.1 L690.2,588.6 L691.5,590.1 L692.9,591.6 L694.2,593.0 L695.6,594.5 L697.0,595.9 L698.4,597.3 L699.8,598.7 L701.3,600.2 L702.7,601.6 L704.1,603.0 L705.5,604.4 L707.0,605.8 L708.4,607.1 L709.9,608.5 L711.4,609.8 L712.9,611.1 L714.4,612.5 L715.9,613.8 L717.4,615.1 L718.9,616.4 L720.5,617.6 L722.0,618.9 L723.6,620.1 L725.1,621.4 L726.7,622.6 L728.3,623.8 L729.9,625.0 L731.5,626.2 L733.1,627.4 L734.7,628.6 L736.3,629.8 L737.9,631.0 L739.6,632.2 L741.2,633.3 L742.8,634.5 L744.4,635.7 L746.0,636.9 L747.6,638.1 L749.2,639.3 L750.8,640.5 L752.3,641.8 L753.8,643.1 L755.3,644.4 L756.7,645.8 L758.2,647.2 L759.6,648.6 L761.1,649.9 L762.6,651.2 L764.1,652.5 L765.7,653.7 L767.3,654.8 L769.0,655.9 L770.7,656.9 L772.4,657.9 L774.1,659.0 L775.8,660.1 L777.4,661.2 L779.1,662.4 L780.6,663.6 L782.2,664.8 L783.7,666.1 L785.2,667.4 L786.7,668.7 L788.2,670.0 L789.7,671.4 L791.2,672.7 L792.8,674.0 L794.3,675.3 L795.8,676.6 L797.3,677.9 L798.8,679.3 L800.3,680.6 L801.8,681.9 L803.3,683.2 L804.8,684.5 L806.3,685.8 L807.9,687.1 L809.4,688.3 L811.0,689.5 L812.7,690.7 L814.3,691.8 L815.9,692.9 L817.6,694.1 L819.3,695.2 L820.9,696.3 L822.6,697.4 L824.3,698.5 L825.9,699.6 L827.6,700.6 L829.3,701.7 L831.0,702.8 L832.7,703.8 L834.4,704.8 L836.2,705.9 L837.9,706.9 L839.6,707.9 L841.3,708.9 L843.0,710.0 L844.8,711.0 L846.5,711.9 L848.3,712.9 L850.0,713.8 L851.8,714.8 L853.6,715.7 L855.4,716.6 L857.1,717.5 L858.9,718.4 L860.7,719.2 L862.5,720.1 L864.3,721.0 L866.2,721.8 L868.0,722.5 L869.9,723.3 L871.7,724.0 L873.6,724.7 L875.5,725.4 L877.4,726.0 L879.3,726.7 L881.2,727.3 L883.1,727.9 L885.0,728.5 L886.9,729.0 L888.8,729.5 L890.8,729.9 L892.7,730.3 L894.7,730.7 L896.6,731.1 L898.6,731.5 L900.6,731.8 L902.5,732.2 L904.5,732.5 L906.5,732.9 L908.5,733.2 L910.4,733.6 L912.4,733.9 L914.4,734.3 L916.3,734.6 L918.3,734.9 L920.3,735.2 L922.3,735.4 L924.3,735.7 L926.2,735.9 L928.2,736.1 L930.2,736.3 L932.2,736.5 L934.2,736.7 L936.2,736.9 L938.2,737.0 L940.2,737.2 L942.2,737.3 L944.2,737.4 L946.2,737.6 L948.2,737.7 L950.2,737.8 L952.2,737.9 L954.2,738.0 L956.2,738.1 L958.2,738.2 L960.1,738.3 L962.1,738.4 L964.1,738.5 L966.1,738.6 L968.1,738.7 L970.1,738.8 L972.1,738.9 L974.1,739.0 L976.1,739.1 L978.1,739.2 L980.1,739.3 L982.1,739.4 L984.1,739.5 L986.1,739.7 L988.1,739.8 L990.1,739.9 L992.1,740.0 L994.1,740.2 L996.1,740.3 L998.1,740.4 L1000.1,740.5 L1002.1,740.7 L1004.1,740.8 L1006.1,740.9 L1008.1,741.0 L1010.1,741.2 L1012.1,741.3 L1014.1,741.4 L1016.1,741.5 L1018.0,741.6 L1020.0,741.7 L1022.0,741.8 L1024.0,741.8 L1026.0,741.9 L1028.0,741.9 L1030.0,742.0 L1032.0,742.0 L1034.0,742.0 L1036.0,742.1 L1038.0,742.1 L1040.0,742.2 L1042.0,742.2 L1044.0,742.2 L1046.0,742.3 L1048.0,742.3 L1050.0,742.3 L1052.0,742.4 L1054.0,742.4 L1056.0,742.4 L1058.0,742.5 L1060.0,742.5 L1062.0,742.5 L1064.0,742.5 L1066.0,742.6 L1068.0,742.6 L1070.0,742.6 L1072.0,742.7 L1074.0,742.7 L1076.0,742.7 L1078.0,742.7 L1080.0,742.8 L1082.0,742.8 L1084.0,742.8 L1086.0,742.8 L1088.0,742.9 L1090.0,742.9 L1092.0,742.9 L1094.0,742.9 L1096.0,742.9 L1098.0,743.0 L1100.0,743.0 L1102.0,743.0 L1104.0,743.0 L1106.0,743.1 L1108.0,743.1 L1110.0,743.1 L1112.0,743.1 L1114.0,743.1 L1116.0,743.2 L1118.0,743.2 L1120.0,743.2 L1122.0,743.2 L1124.0,743.2 L1126.0,743.3 L1128.0,743.3 L1130.0,743.3 L1132.0,743.3 L1134.0,743.3 L1136.0,743.4 L1138.0,743.4 L1140.0,743.4 L1141.9,743.4 L1143.6,743.4 L1145.2,743.5 L1146.5,743.5 L1147.0,743.5 L1300.0,745.5 L1820.8,747.0" fill="none" stroke="#0000FF" stroke-width="8" stroke-linejoin="round" stroke-linecap="butt"/>
<path d="M299.3,285.0 L300.3,284.7 L301.6,284.5 L303.3,284.1 L305.2,283.7 L307.1,283.3 L309.1,283.1 L310.9,283.5 L312.7,284.3 L314.5,285.1 L316.3,286.0 L318.1,286.6 L319.9,286.4 L321.7,285.6 L323.5,284.7 L325.2,283.9 L327.1,283.2 L328.9,283.3 L330.8,283.8 L332.7,284.5 L334.4,285.3 L336.0,286.5 L337.5,287.8 L338.9,289.1 L340.3,290.5 L341.7,291.9 L343.1,293.4 L344.5,294.8 L345.8,296.3 L347.1,297.8 L348.4,299.4 L349.6,300.9 L350.8,302.6 L351.9,304.2 L352.9,305.9 L354.0,307.6 L355.0,309.3 L355.9,311.1 L356.9,312.8 L357.9,314.6 L358.9,316.3 L359.8,318.1 L360.8,319.8 L361.8,321.6 L362.8,323.3 L363.7,325.0 L364.8,326.7 L365.8,328.4 L366.9,330.1 L368.1,331.6 L369.4,333.2 L370.7,334.6 L372.1,336.1 L373.5,337.5 L375.0,338.8 L376.5,340.2 L377.9,341.5 L379.4,342.9 L380.8,344.3 L382.2,345.7 L383.6,347.2 L384.9,348.6 L386.3,350.0 L387.8,351.4 L389.2,352.8 L390.8,354.1 L392.3,355.3 L393.8,356.6 L395.4,357.8 L396.9,359.1 L398.4,360.4 L399.8,361.7 L401.2,363.2 L402.4,364.7 L403.6,366.3 L404.7,368.0 L405.7,369.7 L406.7,371.4 L407.6,373.2 L408.4,375.0 L409.3,376.8 L410.1,378.6 L410.8,380.5 L411.5,382.3 L412.1,384.2 L412.8,386.1 L413.3,388.0 L413.8,390.0 L414.3,391.9 L414.8,393.8 L415.3,395.8 L415.9,397.7 L416.4,399.6 L417.0,401.5 L417.7,403.4 L418.4,405.3 L419.1,407.1 L419.8,409.0 L420.5,410.8 L421.3,412.7 L422.0,414.6 L422.7,416.4 L423.4,418.3 L424.1,420.2 L424.7,422.1 L425.4,424.0 L426.0,425.9 L426.6,427.8 L427.2,429.7 L427.7,431.6 L428.3,433.5 L428.8,435.5 L429.4,437.4 L429.9,439.3 L430.4,441.2 L431.0,443.2 L431.5,445.1 L432.0,447.0 L432.5,449.0 L433.0,450.9 L433.5,452.9 L433.9,454.8 L434.4,456.7 L434.9,458.7 L435.4,460.6 L436.0,462.5 L436.5,464.5 L437.1,466.4 L437.7,468.3 L438.3,470.2 L438.9,472.1 L439.5,474.0 L440.2,475.9 L440.9,477.8 L441.5,479.6 L442.3,481.5 L443.0,483.3 L443.8,485.2 L444.7,487.0 L445.6,488.8 L446.4,490.6 L447.3,492.4 L448.2,494.2 L449.0,496.0 L449.8,497.8 L450.6,499.6 L451.4,501.5 L452.1,503.3 L452.8,505.2 L453.6,507.1 L454.3,508.9 L455.0,510.8 L455.7,512.7 L456.3,514.6 L457.0,516.4 L457.7,518.3 L458.4,520.2 L459.1,522.1 L459.8,524.0 L460.5,525.8 L461.2,527.7 L461.9,529.5 L462.7,531.3 L463.6,533.0 L464.7,534.6 L465.8,536.1 L467.2,537.5 L468.6,538.8 L470.2,540.0 L471.8,541.1 L473.5,542.2 L475.2,543.3 L476.9,544.3 L478.6,545.3 L480.3,546.3 L482.1,547.3 L483.8,548.2 L485.6,549.0 L487.5,549.6 L489.3,550.2 L491.2,550.6 L493.2,550.9 L495.1,551.1 L497.1,551.2 L499.1,551.2 L501.1,551.1 L503.1,550.9 L505.0,550.7 L507.0,550.4 L509.0,550.1 L510.9,549.7 L512.9,549.3 L514.8,548.8 L516.7,548.3 L518.6,547.7 L520.4,546.9 L522.3,546.2 L524.1,545.3 L525.9,544.4 L527.6,543.5 L529.4,542.6 L531.1,541.6 L532.9,540.6 L534.6,539.6 L536.3,538.6 L538.0,537.5 L539.7,536.5 L541.4,535.4 L543.0,534.3 L544.7,533.1 L546.3,532.0 L547.8,530.7 L549.3,529.4 L550.8,528.0 L552.2,526.7 L553.6,525.3 L555.1,523.9 L556.5,522.5 L557.9,521.1 L559.4,519.7 L560.9,518.4 L562.4,517.0 L563.9,515.7 L565.4,514.4 L566.9,513.1 L568.4,511.8 L569.9,510.4 L571.3,509.1 L572.7,507.7 L574.1,506.2 L575.5,504.8 L576.8,503.3 L578.1,501.8 L579.4,500.3 L580.8,498.8 L582.1,497.2 L583.4,495.7 L584.7,494.2 L586.0,492.7 L587.3,491.2 L588.6,489.7 L589.9,488.1 L591.2,486.6 L592.4,485.1 L593.7,483.6 L595.0,482.1 L596.3,480.7 L597.6,479.2 L598.8,477.7 L600.1,476.2 L601.5,474.8 L602.8,473.2 L604.1,471.7 L605.6,470.2 L607.0,468.7 L608.5,467.2 L610.0,465.8 L611.6,464.4 L613.1,463.0 L614.7,461.7 L616.2,460.5 L617.7,459.2 L619.1,457.9 L620.6,456.6 L622.1,455.3 L623.5,454.0 L625.0,452.7 L626.5,451.4 L627.9,450.1 L629.5,448.8 L631.0,447.5 L632.6,446.3 L634.2,445.1 L635.8,443.9 L637.4,442.8 L639.0,441.6 L640.6,440.5 L642.2,439.4 L643.8,438.2 L645.3,437.0 L646.9,435.9 L648.5,434.7 L650.2,433.5 L651.9,432.4 L653.7,431.3 L655.5,430.4 L657.4,429.6 L659.3,428.8 L661.1,428.0 L663.0,427.3 L664.8,426.5 L666.6,425.7 L668.4,424.9 L670.2,424.1 L671.9,423.3 L673.7,422.4 L675.5,421.5 L677.3,420.6 L679.0,419.7 L680.8,418.8 L682.6,418.0 L684.4,417.3 L686.3,416.8 L688.2,416.4 L690.1,416.1 L692.1,415.9 L694.1,415.9 L696.0,415.9 L698.0,416.0 L700.0,416.1 L701.9,416.2 L703.9,416.2 L705.8,416.1 L707.6,415.8 L709.4,415.3 L711.1,414.5 L712.8,413.6 L714.5,412.6 L716.2,411.6 L717.8,410.5 L719.5,409.3 L721.1,408.2 L722.8,407.1 L724.5,406.0 L726.1,404.8 L727.7,403.7 L729.3,402.5 L730.8,401.2 L732.3,399.9 L733.8,398.6 L735.3,397.2 L736.7,395.8 L738.1,394.4 L739.5,392.9 L740.8,391.5 L742.2,390.0 L743.5,388.5 L744.8,386.9 L746.0,385.4 L747.3,383.8 L748.5,382.3 L749.7,380.7 L751.0,379.1 L752.2,377.5 L753.4,375.9 L754.6,374.4 L755.8,372.8 L757.1,371.2 L758.3,369.6 L759.5,368.0 L760.7,366.4 L761.9,364.8 L763.1,363.2 L764.3,361.6 L765.5,360.0 L766.7,358.4 L768.0,356.9 L769.2,355.3 L770.5,353.8 L771.8,352.3 L773.1,350.8 L774.4,349.3 L775.8,347.7 L777.1,346.2 L778.4,344.7 L779.7,343.2 L781.0,341.7 L782.2,340.1 L783.5,338.6 L784.7,337.0 L786.0,335.5 L787.2,333.9 L788.5,332.3 L789.7,330.7 L790.9,329.1 L792.1,327.6 L793.4,326.0 L794.6,324.4 L795.8,322.8 L797.0,321.3 L798.3,319.7 L799.5,318.1 L800.7,316.5 L802.0,314.9 L803.2,313.4 L804.4,311.8 L805.6,310.2 L806.9,308.6 L808.1,307.1 L809.4,305.5 L810.6,303.9 L811.9,302.4 L813.2,300.9 L814.4,299.3 L815.7,297.8 L817.0,296.3 L818.4,294.8 L819.7,293.3 L821.0,291.8 L822.4,290.4 L823.8,288.9 L825.2,287.5 L826.6,286.1 L828.0,284.7 L829.5,283.3 L830.9,281.8 L832.3,280.4 L833.7,279.0 L835.1,277.6 L836.5,276.2 L837.9,274.8 L839.4,273.4 L840.8,272.0 L842.2,270.5 L843.6,269.1 L845.0,267.7 L846.4,266.3 L847.8,264.9 L849.3,263.5 L850.7,262.1 L852.1,260.7 L853.6,259.3 L855.0,257.9 L856.5,256.6 L858.0,255.3 L859.5,254.0 L861.1,252.7 L862.6,251.4 L864.2,250.2 L865.8,249.0 L867.4,247.8 L869.0,246.7 L870.7,245.6 L872.4,244.6 L874.1,243.6 L875.9,242.7 L877.7,241.9 L879.6,241.3 L881.5,240.9 L883.5,240.5 L885.4,240.1 L887.4,240.2 L889.3,240.6 L891.2,241.3 L893.0,241.9 L894.9,242.6 L896.7,243.4 L898.4,244.3 L900.0,245.5 L901.4,246.8 L902.9,248.2 L904.3,249.5 L905.7,251.0 L907.0,252.5 L908.3,254.0 L909.5,255.6 L910.6,257.2 L911.7,258.8 L912.8,260.5 L913.9,262.2 L914.9,263.9 L916.0,265.6 L917.0,267.4 L917.9,269.1 L918.9,270.9 L919.7,272.7 L920.6,274.5 L921.4,276.3 L922.3,278.1 L923.1,279.9 L923.9,281.7 L924.7,283.6 L925.5,285.4 L926.3,287.3 L927.0,289.1 L927.8,290.9 L928.6,292.8 L929.3,294.7 L930.0,296.5 L930.8,298.4 L931.5,300.2 L932.2,302.1 L932.9,304.0 L933.6,305.9 L934.2,307.8 L934.7,309.7 L935.2,311.6 L935.7,313.5 L936.2,315.5 L936.7,317.4 L937.1,319.4 L937.6,321.3 L938.0,323.3 L938.5,325.2 L938.9,327.2 L939.3,329.1 L939.8,331.1 L940.2,333.0 L940.6,335.0 L941.0,336.9 L941.4,338.9 L941.8,340.9 L942.2,342.8 L942.6,344.8 L942.9,346.8 L943.4,348.7 L943.8,350.7 L944.2,352.6 L944.7,354.6 L945.2,356.5 L945.7,358.4 L946.3,360.3 L946.8,362.3 L947.4,364.2 L947.9,366.1 L948.5,368.0 L949.0,370.0 L949.5,371.9 L950.0,373.8 L950.5,375.8 L951.0,377.7 L951.5,379.6 L952.0,381.6 L952.6,383.5 L953.1,385.4 L953.7,387.3 L954.2,389.3 L954.8,391.2 L955.4,393.1 L955.9,395.0 L956.4,396.9 L956.9,398.9 L957.4,400.8 L957.9,402.8 L958.4,404.7 L958.9,406.6 L959.3,408.6 L959.7,410.5 L960.2,412.5 L960.6,414.5 L961.0,416.4 L961.4,418.4 L961.8,420.3 L962.2,422.3 L962.7,424.2 L963.1,426.2 L963.6,428.1 L964.1,430.1 L964.6,432.0 L965.0,433.9 L965.5,435.9 L966.0,437.8 L966.5,439.8 L967.0,441.7 L967.5,443.6 L967.9,445.6 L968.4,447.5 L968.9,449.5 L969.3,451.4 L969.7,453.4 L970.1,455.3 L970.5,457.2 L970.9,459.1 L971.3,460.8 L971.6,462.6 L971.9,464.2 L972.3,465.9 L972.6,467.5 L972.9,469.1 L973.3,471.0 L973.7,473.1 L974.2,475.8 L974.7,478.8 L975.2,481.8 L975.6,484.5 L975.9,486.7 L976.2,488.6 L976.5,490.4 L976.7,492.1 L977.0,493.8 L977.3,495.5 L977.5,497.2 L977.8,499.0 L978.2,500.8 L978.5,502.7 L978.9,504.6 L979.2,506.5 L979.6,508.5 L979.9,510.5 L980.3,512.4 L980.7,514.4 L981.2,516.3 L981.7,518.3 L982.2,520.2 L982.7,522.1 L983.2,524.0 L983.8,526.0 L984.4,527.9 L984.9,529.8 L985.5,531.7 L986.1,533.6 L986.6,535.6 L987.1,537.5 L987.6,539.4 L988.1,541.4 L988.5,543.3 L989.0,545.3 L989.4,547.2 L989.9,549.2 L990.3,551.1 L990.8,553.1 L991.3,555.0 L991.8,556.9 L992.3,558.8 L992.9,560.8 L993.5,562.7 L994.1,564.6 L994.8,566.5 L995.4,568.3 L996.1,570.2 L996.7,572.1 L997.4,574.0 L998.0,575.9 L998.5,577.8 L999.1,579.8 L999.6,581.7 L1000.1,583.6 L1000.5,585.6 L1001.0,587.5 L1001.4,589.5 L1001.9,591.4 L1002.4,593.3 L1002.9,595.3 L1003.4,597.2 L1004.0,599.1 L1004.6,601.0 L1005.2,602.9 L1005.9,604.8 L1006.5,606.7 L1007.1,608.6 L1007.7,610.5 L1008.4,612.4 L1009.0,614.3 L1009.6,616.2 L1010.3,618.1 L1010.9,620.0 L1011.5,621.9 L1012.2,623.8 L1012.8,625.7 L1013.4,627.6 L1014.1,629.5 L1014.7,631.4 L1015.3,633.3 L1016.0,635.2 L1016.6,637.1 L1017.3,639.0 L1018.0,640.8 L1018.7,642.7 L1019.4,644.6 L1020.2,646.4 L1021.0,648.2 L1021.8,650.1 L1022.6,651.9 L1023.4,653.7 L1024.2,655.5 L1025.1,657.4 L1025.9,659.2 L1026.7,661.0 L1027.6,662.8 L1028.4,664.6 L1029.3,666.4 L1030.2,668.2 L1031.1,670.0 L1031.9,671.8 L1032.8,673.6 L1033.7,675.4 L1034.6,677.2 L1035.6,678.9 L1036.5,680.7 L1037.5,682.4 L1038.5,684.1 L1039.6,685.8 L1040.7,687.5 L1041.9,689.1 L1043.0,690.7 L1044.3,692.3 L1045.5,693.9 L1046.7,695.4 L1047.9,697.0 L1049.2,698.6 L1050.5,700.1 L1051.8,701.6 L1053.1,703.1 L1054.4,704.6 L1055.8,706.1 L1057.2,707.5 L1058.6,708.9 L1060.0,710.3 L1061.4,711.7 L1062.8,713.1 L1064.3,714.5 L1065.8,715.8 L1067.3,717.1 L1068.8,718.4 L1070.4,719.6 L1072.1,720.7 L1073.7,721.8 L1075.4,722.8 L1077.1,723.9 L1078.9,724.9 L1080.6,725.9 L1082.3,726.9 L1084.0,727.9 L1085.8,728.8 L1087.6,729.7 L1089.4,730.4 L1091.3,731.2 L1093.1,731.8 L1095.0,732.5 L1096.9,733.1 L1098.8,733.7 L1100.8,734.3 L1102.7,734.9 L1104.6,735.4 L1106.5,736.0 L1108.4,736.6 L1110.3,737.1 L1112.3,737.6 L1114.2,738.1 L1116.2,738.5 L1118.1,738.8 L1120.1,739.2 L1122.1,739.5 L1124.0,739.8 L1126.0,740.1 L1128.0,740.4 L1130.0,740.7 L1131.9,741.0 L1133.9,741.3 L1135.9,741.5 L1137.9,741.7 L1139.9,741.9 L1141.9,742.0 L1143.9,742.1 L1145.9,742.2 L1147.9,742.3 L1149.9,742.4 L1151.9,742.5 L1153.9,742.6 L1155.9,742.6 L1157.9,742.7 L1159.9,742.8 L1161.9,742.9 L1163.9,743.0 L1165.9,743.1 L1167.9,743.1 L1169.9,743.2 L1171.9,743.3 L1173.8,743.4 L1175.8,743.5 L1177.8,743.6 L1179.8,743.6 L1181.8,743.7 L1183.8,743.8 L1185.8,743.9 L1187.8,744.0 L1189.8,744.1 L1191.7,744.2 L1193.6,744.2 L1195.2,744.3 L1196.7,744.4 L1197.8,744.4 L1197.8,744.4 L1250.0,746.0 L1400.0,746.5 L1820.8,748.5" fill="none" stroke="#FF0000" stroke-width="8" stroke-linejoin="round" stroke-linecap="butt"/>
<rect x="1047.2" y="234.0" width="101.5" height="8" fill="#000000"/>
<text transform="translate(1173,256.9) scale(1,1.027)" class="t b" style="font-size:54.5px">14</text>
<rect x="1047.2" y="297.6" width="101.5" height="8" fill="#009945"/>
<text transform="translate(1173,320.3) scale(1,1.027)" class="t b" style="font-size:54.5px">15</text>
<rect x="1047.2" y="360.9" width="101.5" height="8" fill="#FF0000"/>
<text transform="translate(1173,383.6) scale(1,1.027)" class="t b" style="font-size:54.5px">22</text>
<rect x="1047.2" y="424.1" width="101.5" height="8" fill="#0000FF"/>
<text transform="translate(1173,446.9) scale(1,1.027)" class="t b" style="font-size:54.5px">23</text>
<rect x="154.5" y="552.0" width="10.2" height="6.7" fill="#fff"/>
<rect x="169.5" y="552.0" width="10.3" height="6.7" fill="#fff"/>
<rect x="154.5" y="446.6" width="10.2" height="6.7" fill="#fff"/>
<rect x="169.5" y="446.6" width="10.3" height="6.7" fill="#fff"/>
<rect x="1175.8" y="249.7" width="9.9" height="8.2" fill="#fff"/>
<rect x="1193.1" y="249.7" width="9.1" height="8.2" fill="#fff"/>
<rect x="1175.8" y="313.1" width="9.9" height="8.2" fill="#fff"/>
<rect x="1193.1" y="313.1" width="9.1" height="8.2" fill="#fff"/>
</svg>
</body></html>
